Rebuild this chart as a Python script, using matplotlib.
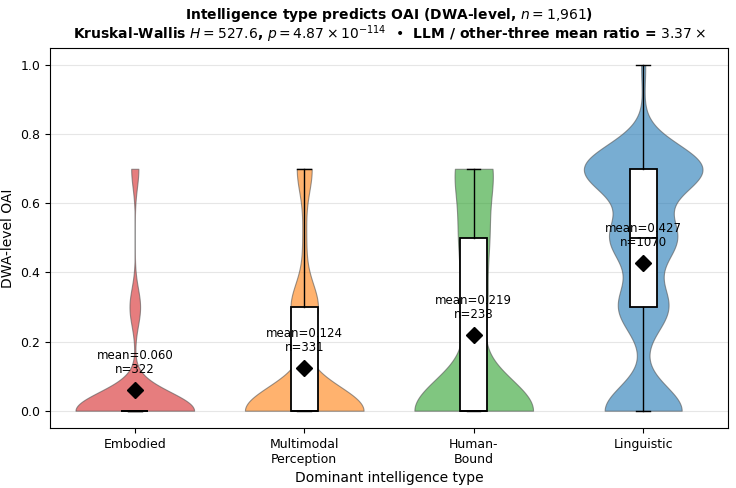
import numpy as np
import matplotlib
matplotlib.use("Agg")
import matplotlib.pyplot as plt

# dominant intelligence types and their OAI score levels (counts)
categories = ["Embodied", "Multimodal\nPerception", "Human-\nBound", "Linguistic"]
colors = ["#d62728", "#ff7f0e", "#2ca02c", "#1f77b4"]
levels = [0.0, 0.3, 0.5, 0.7, 1.0]
counts_embodied = [280, 25, 0, 17, 0]
counts_multimodal = [239, 55, 7, 30, 0]
counts_human = [139, 28, 30, 41, 0]
counts_linguistic = [263, 169, 223, 401, 14]
all_counts = [counts_embodied, counts_multimodal, counts_human, counts_linguistic]

data = [np.repeat(levels, c) for c in all_counts]
pos = np.arange(len(categories))

fig = plt.figure(figsize=(7.36, 4.88), dpi=100)
ax = fig.add_axes([0.068, 0.123, 0.921, 0.779])

vp = ax.violinplot(data, positions=pos, widths=0.7, showextrema=False, points=300)
for body, col in zip(vp["bodies"], colors):
    body.set_facecolor(col)
    body.set_alpha(0.6)
    body.set_edgecolor("#555555")
    body.set_linewidth(0.8)

ax.boxplot(data, positions=pos, widths=0.16, patch_artist=True, showfliers=False,
           boxprops=dict(facecolor="white", edgecolor="black", linewidth=1.3),
           medianprops=dict(color="black", linewidth=1.3),
           whiskerprops=dict(color="black", linewidth=1.0),
           capprops=dict(color="black", linewidth=1.0), zorder=3)

for i, d in enumerate(data):
    m = d.mean()
    ax.plot(i, m, marker="D", color="black", markersize=8, zorder=5)
    ax.text(i, m + 0.04, f"mean={m:.3f}\nn={len(d)}", ha="center", va="bottom",
            fontsize=8.5, zorder=6, linespacing=1.1)

ax.set_xlim(-0.5, 3.5)
ax.set_ylim(-0.05, 1.05)
ax.set_xticks(pos)
ax.set_xticklabels(categories, fontsize=9)
ax.set_yticks(np.arange(0, 1.01, 0.2))
ax.tick_params(axis="y", labelsize=9)
ax.yaxis.grid(True, color="#e6e6e6", linewidth=0.8)
ax.set_axisbelow(True)
ax.set_xlabel("Dominant intelligence type", fontsize=10)
ax.set_ylabel("DWA-level OAI", fontsize=10)
ax.set_title("Intelligence type predicts OAI (DWA-level, $n = 1{,}961$)\n"
             "Kruskal-Wallis $H = 527.6$, $p = 4.87 \\times 10^{-114}$  \u2022  "
             "LLM / other-three mean ratio = $3.37\\times$",
             fontsize=10, fontweight="bold", pad=6, linespacing=1.0)

fig.savefig("out.png", dpi=100)
